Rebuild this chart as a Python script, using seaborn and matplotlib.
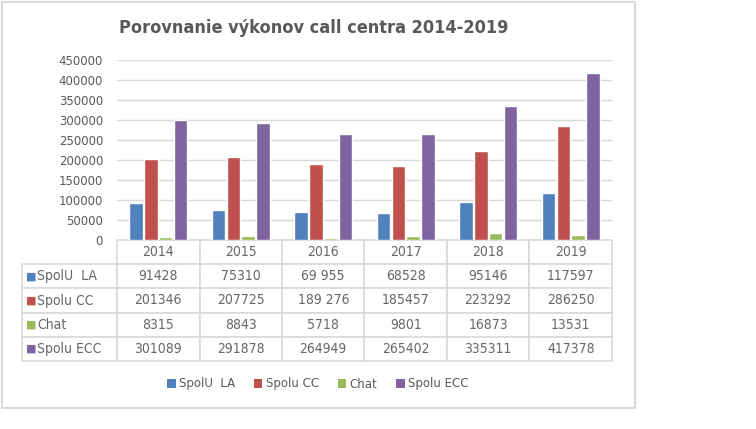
import numpy as np
import pandas as pd
import matplotlib
matplotlib.use("Agg")
import matplotlib.pyplot as plt
import seaborn as sns
from matplotlib import font_manager
from matplotlib.patches import Rectangle, Patch

# data (as printed in the table)
years = ["2014", "2015", "2016", "2017", "2018", "2019"]
series_names = ["SpolU  LA", "Spolu CC", "Chat", "Spolu ECC"]
spolu_la = ["91428", "75310", "69 955", "68528", "95146", "117597"]
spolu_cc = ["201346", "207725", "189 276", "185457", "223292", "286250"]
chat = ["8315", "8843", "5718", "9801", "16873", "13531"]
spolu_ecc = ["301089", "291878", "264949", "265402", "335311", "417378"]
colors = ["#4F81BD", "#C0504D", "#9BBB59", "#8064A2"]

table_rows = [spolu_la, spolu_cc, chat, spolu_ecc]

rows = []
for name, vals in zip(series_names, table_rows):
    for y, v in zip(years, vals):
        rows.append({"year": y, "series": name, "value": int(v.replace(" ", ""))})
df = pd.DataFrame(rows)

fonts = {f.name for f in font_manager.fontManager.ttflist}
if "Liberation Sans Narrow" in fonts:
    narrow, stretch = "Liberation Sans Narrow", "normal"
else:
    narrow, stretch = "DejaVu Sans", "condensed"

sns.set_style("white")
plt.rcParams["font.family"] = ["DejaVu Sans"]

W, H = 756, 429
fig = plt.figure(figsize=(W / 100, H / 100), dpi=100)

# chart frame
fig.patches.append(Rectangle((2 / W, 1 - 408 / H), 633 / W, 406 / H, transform=fig.transFigure,
                             fill=False, edgecolor="#D9D9D9", linewidth=1.5))

x0, x1, ytop, ybot = 117, 612, 60, 240
ax = fig.add_axes([x0 / W, 1 - ybot / H, (x1 - x0) / W, (ybot - ytop) / H])

sns.barplot(data=df, x="year", y="value", hue="series", palette=colors, ax=ax,
            width=0.72, gap=0.1, saturation=1, legend=False)

ax.set_ylim(0, 450000)
ax.set_yticks(np.arange(0, 450001, 50000))
ax.set_yticklabels([str(t) for t in range(0, 450001, 50000)], fontsize=8.5, color="#595959")
ax.yaxis.grid(True, color="#D9D9D9", linewidth=1)
ax.set_axisbelow(True)
ax.tick_params(axis="y", length=0, pad=10)
ax.tick_params(axis="x", length=0, labelbottom=False)
ax.set_xlabel("")
ax.set_ylabel("")
for s in ax.spines.values():
    s.set_visible(False)

# data table
ax_w = x1 - x0
ax_h = ybot - ytop
lab_w = 95
cell_text = [[""] + years] + [[""] + vals for vals in table_rows]
col_widths = [lab_w] + [ax_w / 6] * 6
tot = sum(col_widths)
tbl = ax.table(cellText=cell_text, colWidths=[c / tot for c in col_widths],
               cellLoc="center",
               bbox=[-lab_w / ax_w, -121 / ax_h, tot / ax_w, 121 / ax_h])
tbl.auto_set_font_size(False)
for (r, c), cell in tbl.get_celld().items():
    cell.set_edgecolor("#D9D9D9")
    cell.set_linewidth(1.2)
    t = cell.get_text()
    t.set_fontsize(10)
    t.set_color("#666666")
    t.set_fontfamily(narrow)
    t.set_fontstretch(stretch)
    if r == 0 and c == 0:
        cell.visible_edges = ""

row_h = 121 / 5 / ax_h
for i, (name, col) in enumerate(zip(series_names, colors)):
    yc = -(121 / ax_h) + (3.5 - i) * row_h
    ax.text(-lab_w / ax_w + 4 / ax_w, yc, "■", color=col, fontsize=8, va="center",
            ha="left", transform=ax.transAxes)
    ax.text(-lab_w / ax_w + 15 / ax_w, yc, name, color="#666666", fontsize=10,
            va="center", ha="left", transform=ax.transAxes, fontfamily=narrow,
            fontstretch=stretch)

# legend
handles = [Patch(facecolor=c, edgecolor="none") for c in colors]
fig.legend(handles, series_names, loc="center", bbox_to_anchor=(318 / W, 1 - 384 / H),
           ncol=4, frameon=False, fontsize=8.5, handlelength=0.7, handleheight=0.7,
           handletextpad=0.3, columnspacing=1.6, labelcolor="#595959")

fig.text(314 / W, 1 - 28 / H, "Porovnanie výkonov call centra 2014-2019", ha="center",
         va="center", fontsize=13, fontweight="bold", color="#595959", fontfamily=narrow,
         fontstretch=stretch)

fig.savefig("out.png", dpi=100, facecolor="white")
